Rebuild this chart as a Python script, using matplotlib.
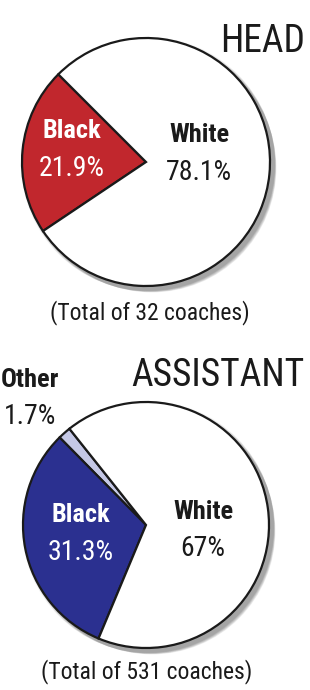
import matplotlib
matplotlib.use("Agg")
import matplotlib.pyplot as plt
from matplotlib.patches import Circle

# data
head_labels = ["Black", "White"]
head_values = [21.9, 78.1]
head_colors = ["#C1272D", "#FFFFFF"]

asst_labels = ["Other", "Black", "White"]
asst_values = [1.7, 31.3, 67.0]
asst_colors = ["#C5C8E6", "#2B3090", "#FFFFFF"]

FONT = ["Liberation Sans Narrow", "Roboto Condensed", "DejaVu Sans"]
plt.rcParams["font.family"] = FONT

W, H = 310, 690
fig = plt.figure(figsize=(W / 100, H / 100), dpi=100)
ax = fig.add_axes([0, 0, 1, 1])
ax.set_xlim(0, W)
ax.set_ylim(0, H)
ax.set_aspect("equal")
ax.axis("off")

LBL = 19   # bold category labels
PCT = 20   # percentages


def y(py):
    # pixel row (from top) -> data y
    return H - py


def shadow(cx, cy, r):
    # soft drop shadow down-right of the pie
    for i in range(8):
        ax.add_patch(Circle((cx + 2 + i * 0.6, cy - 2 - i * 0.6), r + 3 - i * 0.4,
                            color="#000000", alpha=0.05, lw=0, zorder=0))


def draw_pie(values, colors, cx, cy, r, start):
    shadow(cx, cy, r)
    wedges, _ = ax.pie(values, colors=colors, center=(cx, cy), radius=r,
                       startangle=start, counterclock=True,
                       wedgeprops=dict(edgecolor="#1a1a1a", linewidth=1.6))
    for w in wedges:
        w.set_zorder(2)
    ax.set_xlim(0, W)
    ax.set_ylim(0, H)


# head coaches
draw_pie(head_values, head_colors, 146, y(162), 124, 135)
ax.text(305, y(41), "HEAD", ha="right", va="center", fontsize=27, color="#1a1a1a")
ax.text(72, y(131), head_labels[0], ha="center", va="center", fontsize=LBL,
        fontweight="bold", color="white", zorder=5)
ax.text(72, y(168), f"{head_values[0]}%", ha="center", va="center", fontsize=PCT,
        color="white", zorder=5)
ax.text(199, y(135), head_labels[1], ha="center", va="center", fontsize=LBL,
        fontweight="bold", color="#1a1a1a", zorder=5)
ax.text(199, y(172), f"{head_values[1]}%", ha="center", va="center", fontsize=PCT,
        color="#1a1a1a", zorder=5)
ax.text(150, y(313), "(Total of 32 coaches)", ha="center", va="center", fontsize=17,
        color="#1a1a1a")

# assistant coaches
draw_pie(asst_values, asst_colors, 146, y(525), 123, 128.5)
ax.text(305, y(376), "ASSISTANT", ha="right", va="center", fontsize=27, color="#1a1a1a")
ax.text(1, y(380), asst_labels[0], ha="left", va="center", fontsize=LBL,
        fontweight="bold", color="#1a1a1a", zorder=5)
ax.text(4, y(416), f"{asst_values[0]}%", ha="left", va="center", fontsize=PCT,
        color="#1a1a1a", zorder=5)
ax.text(81, y(515), asst_labels[1], ha="center", va="center", fontsize=LBL,
        fontweight="bold", color="white", zorder=5)
ax.text(81, y(553), f"{asst_values[1]}%", ha="center", va="center", fontsize=PCT,
        color="white", zorder=5)
ax.text(203, y(512), asst_labels[2], ha="center", va="center", fontsize=LBL,
        fontweight="bold", color="#1a1a1a", zorder=5)
ax.text(203, y(549), f"{asst_values[2]:g}%", ha="center", va="center", fontsize=PCT,
        color="#1a1a1a", zorder=5)
ax.text(147, y(672), "(Total of 531 coaches)", ha="center", va="center", fontsize=17,
        color="#1a1a1a")

fig.savefig("out.png", dpi=100)
